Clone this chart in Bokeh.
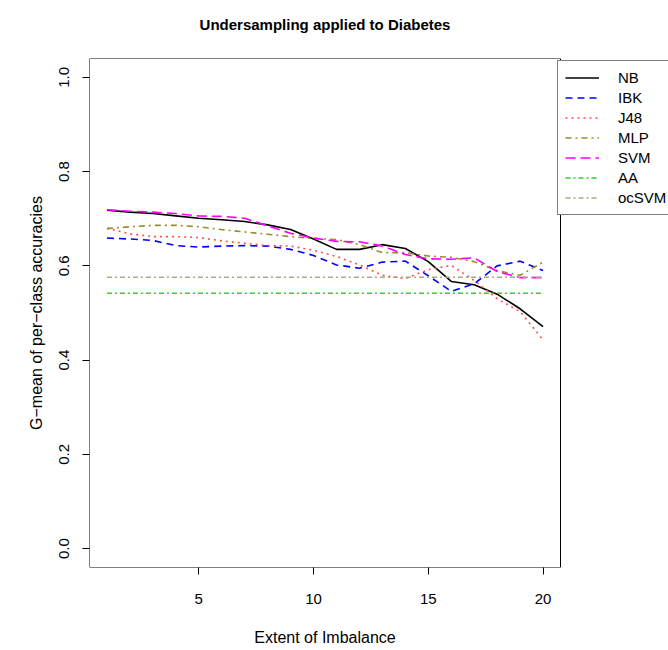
from bokeh.plotting import figure
from bokeh.models import (Range1d, FixedTicker, Legend, LegendItem, LinearAxis,
                          PrintfTickFormatter, BoxAnnotation)
from bokeh.embed import file_html
from bokeh.resources import INLINE

# ---- data ----
extent = list(range(1, 21))
nb    = [0.718, 0.714, 0.711, 0.706, 0.701, 0.698, 0.694, 0.687, 0.677, 0.657,
         0.635, 0.635, 0.645, 0.637, 0.609, 0.567, 0.560, 0.540, 0.509, 0.471]
ibk   = [0.659, 0.657, 0.654, 0.643, 0.640, 0.642, 0.643, 0.642, 0.635, 0.622,
         0.602, 0.595, 0.608, 0.610, 0.579, 0.546, 0.562, 0.600, 0.610, 0.590]
j48   = [0.680, 0.668, 0.662, 0.662, 0.660, 0.653, 0.648, 0.643, 0.642, 0.633,
         0.620, 0.602, 0.580, 0.573, 0.592, 0.601, 0.569, 0.530, 0.503, 0.443]
mlp   = [0.679, 0.683, 0.686, 0.686, 0.683, 0.677, 0.672, 0.667, 0.662, 0.658,
         0.656, 0.645, 0.628, 0.628, 0.621, 0.618, 0.609, 0.590, 0.580, 0.608]
svm   = [0.719, 0.716, 0.714, 0.711, 0.706, 0.705, 0.701, 0.685, 0.669, 0.659,
         0.652, 0.651, 0.642, 0.624, 0.615, 0.614, 0.617, 0.588, 0.575, 0.575]
aa    = [0.542] * 20
ocsvm = [0.576] * 20

series_names = ["NB", "IBK", "J48", "MLP", "SVM", "AA", "ocSVM"]
x_ticks = [5, 10, 15, 20]
y_ticks = [0.0, 0.2, 0.4, 0.6, 0.8, 1.0]
title_text = "Undersampling applied to Diabetes"
x_label = "Extent of Imbalance"
y_label = "G\u2212mean of per\u2212class accuracies"

# R-style axis limits (4% padding) of the plotting box
x_lo, x_hi = 0.24, 20.76
y_lo, y_hi = -0.04, 1.04
x_mid = (x_lo + x_hi) / 2

FONT = "Liberation Sans"

# frame extends to the right edge so that the legend can overhang the box
FRAME_LEFT, BOX_RIGHT, WIDTH = 89, 560, 668
px_per_unit = (BOX_RIGHT - FRAME_LEFT) / (x_hi - x_lo)
x_frame_end = x_lo + (WIDTH - FRAME_LEFT) / px_per_unit

p = figure(width=WIDTH, height=650, output_backend="svg", toolbar_location=None,
           x_range=Range1d(x_lo, x_frame_end), y_range=Range1d(y_lo, y_hi),
           min_border_left=FRAME_LEFT, min_border_right=0, min_border_top=58,
           min_border_bottom=83)

p.grid.visible = False
p.outline_line_color = None
p.background_fill_color = "white"
p.border_fill_color = "white"

# the plotting box
p.add_layout(BoxAnnotation(left=x_lo, right=x_hi, bottom=y_lo, top=y_hi,
                           fill_alpha=0, line_color="black", line_width=1,
                           line_alpha=1))

for ax in (p.xaxis[0], p.yaxis[0]):
    ax.axis_line_color = None
    ax.major_tick_out = 7
    ax.major_tick_in = 0
    ax.minor_tick_line_color = None
    ax.major_tick_line_color = "black"
    ax.major_label_text_font = FONT
    ax.major_label_text_font_size = "15px"
    ax.major_label_text_color = "black"
    ax.axis_label_text_font = FONT
    ax.axis_label_text_font_size = "16px"
    ax.axis_label_text_font_style = "normal"
    ax.axis_label_text_color = "black"

p.xaxis.ticker = FixedTicker(ticks=x_ticks)
p.xaxis.major_label_standoff = 19

p.yaxis.ticker = FixedTicker(ticks=y_ticks)
p.yaxis.formatter = PrintfTickFormatter(format="%.1f")
p.yaxis.major_label_orientation = "vertical"
p.yaxis.axis_label = y_label
p.yaxis.major_label_standoff = 13
p.yaxis.axis_label_standoff = 12


def label_axis(text, size, style, standoff):
    """A tick-less axis whose single label sits at the centre of the box."""
    return LinearAxis(ticker=FixedTicker(ticks=[x_mid]),
                      major_label_overrides={x_mid: text},
                      axis_line_color=None, major_tick_line_color=None,
                      minor_tick_line_color=None, major_tick_out=0,
                      major_tick_in=0, minor_tick_out=0,
                      major_label_text_font=FONT,
                      major_label_text_font_size=size,
                      major_label_text_font_style=style,
                      major_label_text_color="black",
                      major_label_standoff=standoff)


p.add_layout(label_axis(title_text, "15px", "bold", 26), "above")
p.add_layout(label_axis(x_label, "16px", "normal", 22), "below")

styles = [
    (nb,    "black",   "solid",     1.6),
    (ibk,   "#0000FF", "7 5",       1.6),
    (j48,   "#FF4D4D", "2 4",       1.6),
    (mlp,   "#9C8C2A", "6 4 2 4",   1.6),
    (svm,   "#FF00FF", "10 5",      1.6),
    (aa,    "#33CC33", "5 3 2 3",   1.6),
    (ocsvm, "#ADA68A", "5 3 2 3",   1.6),
]

items = []
for name, (ys, col, dash, w) in zip(series_names, styles):
    r = p.line(extent, ys, line_color=col, line_dash=dash, line_width=w)
    items.append(LegendItem(label=name, renderers=[r]))

legend = Legend(items=items, location=(468, 352))
legend.border_line_color = "black"
legend.border_line_width = 1
legend.background_fill_color = "white"
legend.background_fill_alpha = 1.0
legend.label_text_font = FONT
legend.label_text_font_size = "15px"
legend.label_text_color = "black"
legend.padding = 7
legend.spacing = 1
legend.margin = 0
legend.label_height = 19
legend.glyph_height = 19
legend.glyph_width = 34
legend.label_standoff = 19
p.add_layout(legend)

open("out.html", "w").write(file_html(p, INLINE))
